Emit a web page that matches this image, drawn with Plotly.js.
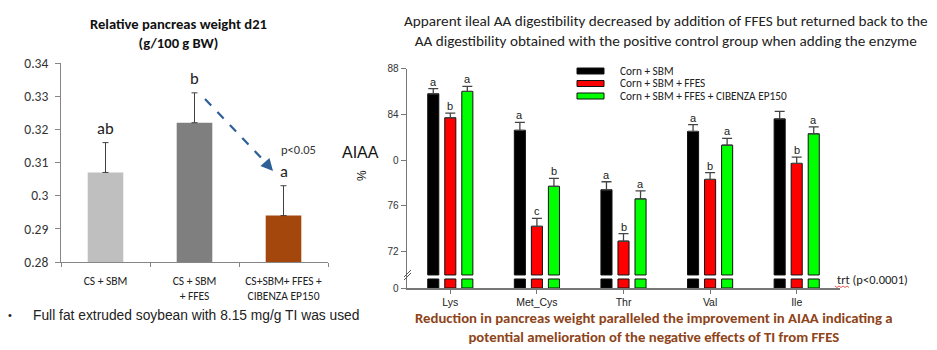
<!DOCTYPE html>
<html><head><meta charset="utf-8">
<script src="https://cdn.plot.ly/plotly-3.0.1.min.js"></script>
<style>html,body{margin:0;padding:0;background:#fff}</style>
</head><body><div id="chart" style="width:937px;height:350px"></div>
<script>
// ---------- Data: relative pancreas weight ----------
const pancCategories = ['CS + SBM', 'CS + SBM<br>+ FFES', 'CS+SBM+ FFES +<br>CIBENZA EP150'];
const pancValues = [0.307, 0.322, 0.294];
const pancErr = [0.009, 0.009, 0.009];
const pancLetters = ['ab', 'b', 'a'];
const pancColors = ['#BFBFBF', '#7F7F7F', '#A4470D'];
const pancTicks = [0.28, 0.29, 0.30, 0.31, 0.32, 0.33, 0.34];
const pancTickText = ['0.28', '0.29', '0.3', '0.31', '0.32', '0.33', '0.34'];

// ---------- Data: apparent ileal AA digestibility ----------
const aaCategories = ['Lys', 'Met_Cys', 'Thr', 'Val', 'Ile'];
const seriesNames = ['Corn + SBM', 'Corn + SBM + FFES', 'Corn + SBM + FFES + CIBENZA EP150'];
const cornSBM = [85.8, 82.6, 77.4, 82.5, 83.6];
const cornSBMErr = [0.45, 0.7, 0.7, 0.6, 0.65];
const cornSBMLetters = ['a', 'a', 'a', 'a', ''];
const ffes = [83.7, 74.2, 72.9, 78.3, 79.7];
const ffesErr = [0.4, 0.7, 0.65, 0.6, 0.55];
const ffesLetters = ['b', 'c', 'b', 'b', 'b'];
const cibenza = [86.0, 77.7, 76.6, 81.3, 82.3];
const cibenzaErr = [0.45, 0.7, 0.7, 0.6, 0.6];
const cibenzaLetters = ['a', 'b', 'a', 'a', 'a'];
const seriesColors = ['#000000', '#FF0000', '#00FF00'];
const aaTickVals = [68.8, 72, 76, 80, 84, 88];
const aaTickText = ['0', '72', '76', '0', '84', '88'];

// ---------- layout helpers ----------
const W = 937, H = 350;
const px = x => x / W;
const py = y => 1 - y / H;
const AXIS_MIN = 68.8, BREAK_LOW = 69.59, BREAK_HIGH = 69.94;
const CAL = 'Carlito, Lato, sans-serif';
const ARIAL = 'Arial, "Liberation Sans", sans-serif';

function note(x, y, text, font, extra) {
  return Object.assign({x: px(x), y: py(y), xref: 'paper', yref: 'paper', text: text, showarrow: false,
    xanchor: 'center', yanchor: 'middle', font: font}, extra || {});
}

const traces = [];
// left chart
traces.push({
  type: 'bar', x: pancCategories, y: pancValues, xaxis: 'x', yaxis: 'y', width: 0.4,
  marker: {color: pancColors, line: {width: 0}},
  error_y: {type: 'data', symmetric: false, array: pancErr, arrayminus: pancErr.map(() => 0),
            color: '#404040', thickness: 1, width: 3},
  showlegend: false, hoverinfo: 'skip'
});

// right chart
const aaSeries = [cornSBM, ffes, cibenza];
const aaErrs = [cornSBMErr, ffesErr, cibenzaErr];
const aaLetters = [cornSBMLetters, ffesLetters, cibenzaLetters];
aaSeries.forEach((vals, i) => {
  traces.push({
    type: 'bar', x: aaCategories, y: vals.map(v => v - BREAK_HIGH), base: vals.map(() => BREAK_HIGH),
    xaxis: 'x2', yaxis: 'y2', offsetgroup: 'g' + i, name: seriesNames[i],
    marker: {color: seriesColors[i], line: {color: '#111', width: 1}},
    error_y: {type: 'data', symmetric: false, array: aaErrs[i], arrayminus: aaErrs[i].map(() => 0),
              color: '#444', thickness: 1.3, width: 5},
    showlegend: false, hoverinfo: 'skip'
  });
  traces.push({
    type: 'bar', x: aaCategories, y: vals.map(() => BREAK_LOW - AXIS_MIN), base: vals.map(() => AXIS_MIN),
    xaxis: 'x2', yaxis: 'y2', offsetgroup: 'g' + i,
    marker: {color: seriesColors[i], line: {color: '#111', width: 1}},
    showlegend: false, hoverinfo: 'skip'
  });
});

const annotations = [];
// left letters
pancCategories.forEach((c, i) => {
  annotations.push({x: c, y: pancValues[i] + pancErr[i], xref: 'x', yref: 'y', text: pancLetters[i],
    showarrow: false, xanchor: 'center', yanchor: 'bottom', yshift: 3, font: {family: CAL, size: 16.5, color: '#222'}});
});
annotations.push(note(298, 149, 'p<0.05', {family: CAL, size: 12.5, color: '#333'}));
// dashed arrow head
annotations.push({x: px(273), y: py(171), xref: 'paper', yref: 'paper', ax: px(265), ay: py(162),
  axref: 'paper', ayref: 'paper', text: '', showarrow: true, arrowhead: 2, arrowsize: 1.1, arrowwidth: 2.2,
  arrowcolor: '#2E5F97'});
// left title
annotations.push(note(178, 33, '<b>Relative pancreas weight d21</b><br><b>(g/100 g BW)</b>',
  {family: CAL, size: 14.6, color: '#111'}));
// bullet text
annotations.push(note(10, 315, '•', {family: ARIAL, size: 11, color: '#222'}));
annotations.push(note(31, 315, 'Full fat extruded soybean with 8.15 mg/g TI was used',
  {family: ARIAL, size: 13.8, color: '#222'}, {xanchor: 'left'}));
// right title
annotations.push(note(666, 31,
  'Apparent ileal AA digestibility decreased by addition of FFES but returned back to the<br>AA digestibility obtained with the positive control group when adding the enzyme',
  {family: CAL, size: 15.2, color: '#222'}));
// right letters
const shifts = [-17, 0, 17];
aaSeries.forEach((vals, i) => {
  aaCategories.forEach((c, j) => {
    if (!aaLetters[i][j]) return;
    annotations.push({x: c, y: vals[j] + aaErrs[i][j], xref: 'x2', yref: 'y2', xshift: shifts[i],
      text: aaLetters[i][j], showarrow: false, xanchor: 'center', yanchor: 'bottom', yshift: -1,
      font: {family: ARIAL, size: 11, color: '#222'}});
  });
});
// legend text
seriesNames.forEach((n, i) => {
  annotations.push(note(619, 71 + i * 12.5, n, {family: CAL, size: 11.3, color: '#222'},
    {xanchor: 'left', borderpad: 0, height: 12}));
});
// AIAA and %
annotations.push(note(360, 152, 'AIAA', {family: ARIAL, size: 16, color: '#111'}));
annotations.push(note(362, 176, '%', {family: ARIAL, size: 12, color: '#111'}, {textangle: -90}));
// trt
annotations.push(note(835, 279, 'trt (p<0.0001)', {family: CAL, size: 12.5, color: '#222'}, {xanchor: 'left'}));
// bottom conclusion
annotations.push(note(654, 327,
  '<b>Reduction in pancreas weight paralleled the improvement in AIAA indicating a</b><br><b>potential amelioration of the negative effects of TI from FFES</b>',
  {family: CAL, size: 14.75, color: '#8E4419'}));

const shapes = [];
// dashed arrow shaft
shapes.push({type: 'line', xref: 'paper', yref: 'paper', x0: px(205), y0: py(99), x1: px(268), y1: py(165),
  line: {color: '#2E5F97', width: 2.2, dash: 'dash'}});
// legend swatches
seriesColors.forEach((c, i) => {
  const yc = 71 + i * 12.5;
  shapes.push({type: 'rect', xref: 'paper', yref: 'paper', x0: px(577), x1: px(604), y0: py(yc - 3), y1: py(yc + 3),
    fillcolor: c, line: {color: '#111', width: 1}});
});
// y-axis break marks
[[404, 277, 411, 270], [404, 280, 411, 273]].forEach(s => {
  shapes.push({type: 'line', xref: 'paper', yref: 'paper', x0: px(s[0]), y0: py(s[1]), x1: px(s[2]), y1: py(s[3]),
    line: {color: '#555', width: 1}});
});
// spell-check squiggle under trt
shapes.push({type: 'path', xref: 'paper', yref: 'paper',
  path: 'M ' + [835,837,839,841,843,845,847,849].map((x, k) => px(x) + ',' + py(286 + (k % 2 ? 1.5 : 0))).join(' L '),
  line: {color: '#E03030', width: 0.8}});

const layout = {
  width: W, height: H, margin: {l: 0, r: 0, t: 0, b: 0},
  paper_bgcolor: '#fff', plot_bgcolor: 'rgba(0,0,0,0)', showlegend: false,
  barmode: 'group', bargap: 0.41, bargroupgap: 0.35,
  xaxis: {domain: [px(61), px(328)], anchor: 'y', type: 'category', showline: true, linecolor: '#868686',
    linewidth: 1, ticks: 'outside', tickson: 'boundaries', ticklen: 4, tickcolor: '#868686', ticklabelstandoff: 8,
    tickfont: {family: CAL, size: 11.5, color: '#222'}, showgrid: false, zeroline: false, fixedrange: true},
  yaxis: {domain: [py(262), py(63)], anchor: 'x', range: [0.28, 0.34], tickvals: pancTicks, ticktext: pancTickText,
    showline: true, linecolor: '#868686', ticks: 'outside', ticklen: 5, tickcolor: '#868686', ticklabelstandoff: 4,
    tickfont: {family: CAL, size: 13.5, color: '#333'}, showgrid: false, zeroline: false},
  xaxis2: {domain: [px(407), px(840)], anchor: 'y2', type: 'category', range: [-0.5, 4.5], showline: true,
    linecolor: '#777', linewidth: 1.5, ticks: 'outside', ticklen: 4, tickcolor: '#777',
    tickfont: {family: ARIAL, size: 10.5, color: '#222'}, showgrid: false, zeroline: false},
  yaxis2: {domain: [py(288), py(68.6)], anchor: 'x2', range: [AXIS_MIN, 88], tickvals: aaTickVals, ticktext: aaTickText,
    showline: true, linecolor: '#777', linewidth: 1.5, ticks: 'outside', ticklen: 5, tickcolor: '#777',
    tickfont: {family: ARIAL, size: 10, color: '#333'}, showgrid: false, zeroline: false},
  annotations: annotations, shapes: shapes
};
Plotly.newPlot('chart', traces, layout, {staticPlot: true, displayModeBar: false});
</script></body></html>
